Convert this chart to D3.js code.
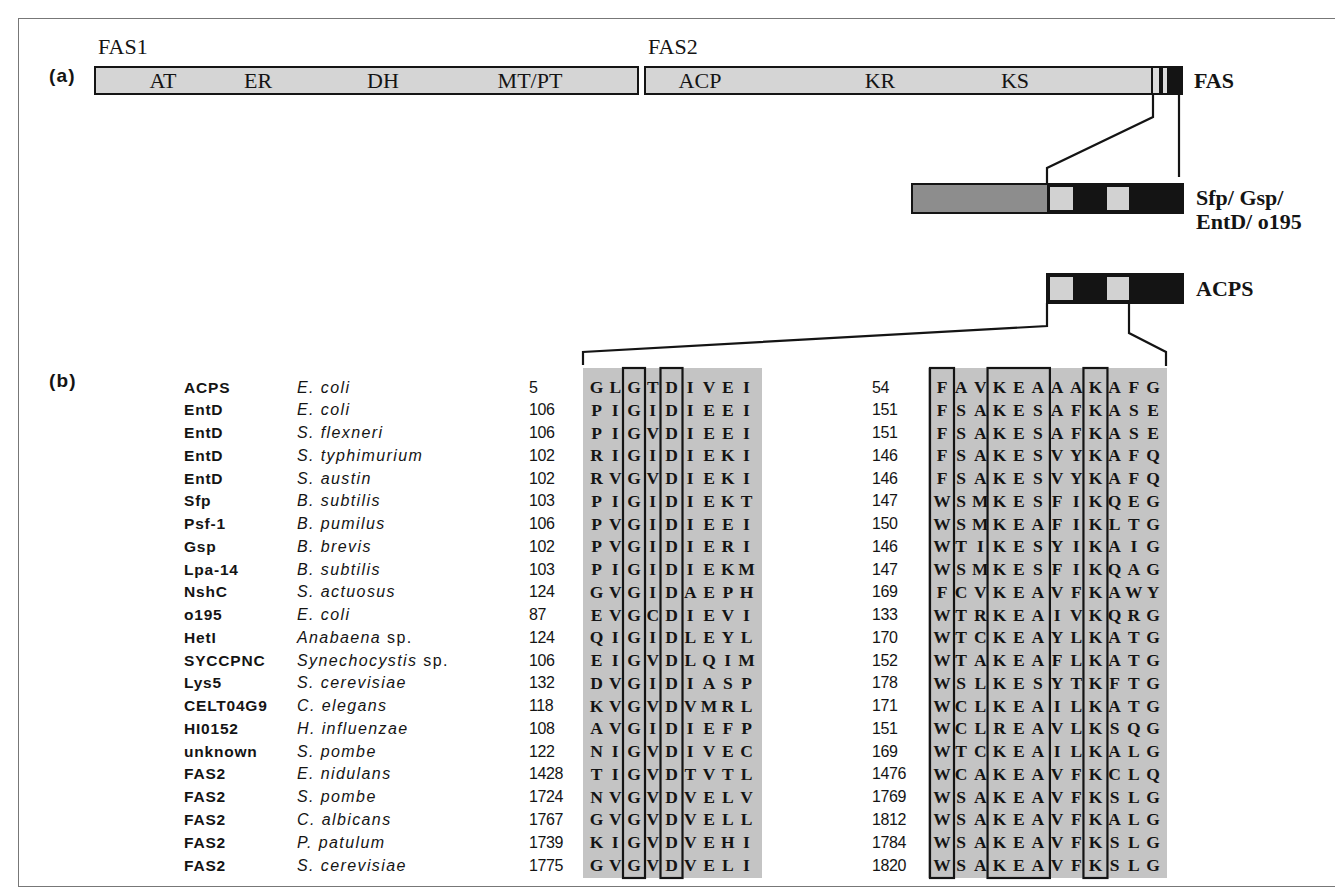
<!DOCTYPE html>
<html>
<head>
<meta charset="utf-8">
<script src="https://cdn.jsdelivr.net/npm/d3@7"></script>
<style>
  body { margin: 0; background: #fff; }
</style>
</head>
<body>
<div id="fig"></div>
<script>
// ---- data ----
const proteins = ["ACPS", "EntD", "EntD", "EntD", "EntD", "Sfp", "Psf-1", "Gsp", "Lpa-14", "NshC", "o195",
  "HetI", "SYCCPNC", "Lys5", "CELT04G9", "HI0152", "unknown", "FAS2", "FAS2", "FAS2", "FAS2", "FAS2"];
const species = ["E. coli", "E. coli", "S. flexneri", "S. typhimurium", "S. austin", "B. subtilis", "B. pumilus",
  "B. brevis", "B. subtilis", "S. actuosus", "E. coli", "Anabaena sp.", "Synechocystis sp.", "S. cerevisiae",
  "C. elegans", "H. influenzae", "S. pombe", "E. nidulans", "S. pombe", "C. albicans", "P. patulum", "S. cerevisiae"];
const start1 = [5, 106, 106, 102, 102, 103, 106, 102, 103, 124, 87, 124, 106, 132, 118, 108, 122, 1428, 1724, 1767, 1739, 1775];
const motif1 = ["GLGTDIVEI", "PIGIDIEEI", "PIGVDIEEI", "RIGIDIEKI", "RVGVDIEKI", "PIGIDIEKT", "PVGIDIEEI",
  "PVGIDIERI", "PIGIDIEKM", "GVGIDAEPH", "EVGCDIEVI", "QIGIDLEYL", "EIGVDLQIM", "DVGIDIASP", "KVGVDVMRL",
  "AVGIDIEFP", "NIGVDIVEC", "TIGVDTVTL", "NVGVDVELV", "GVGVDVELL", "KIGVDVEHI", "GVGVDVELI"];
const start2 = [54, 151, 151, 146, 146, 147, 150, 146, 147, 169, 133, 170, 152, 178, 171, 151, 169, 1476, 1769, 1812, 1784, 1820];
const motif2 = ["FAVKEAAAKAFG", "FSAKESAFKASE", "FSAKESAFKASE", "FSAKESVYKAFQ", "FSAKESVYKAFQ", "WSMKESFIKQEG",
  "WSMKEAFIKLTG", "WTIKESYIKAIG", "WSMKESFIKQAG", "FCVKEAVFKAWY", "WTRKEAIVKQRG", "WTCKEAYLKATG",
  "WTAKEAFLKATG", "WSLKESYTKFTG", "WCLKEAILKATG", "WCLREAVLKSQG", "WTCKEAILKALG", "WCAKEAVFKCLQ",
  "WSAKEAVFKSLG", "WSAKEAVFKALG", "WSAKEAVFKSLG", "WSAKEAVFKSLG"];
// conserved columns boxed in each motif [first, last]
const boxes1 = [[2, 2], [4, 4]];
const boxes2 = [[0, 0], [3, 5], [8, 8]];
const fas1Domains = ["AT", "ER", "DH", "MT/PT"];
const fas2Domains = ["ACP", "KR", "KS"];

// ---- layout ----
const W = 1335, H = 890;
const svg = d3.select("#fig").append("svg").attr("width", W).attr("height", H);
const serif = "'Liberation Serif', 'DejaVu Serif', serif";
const sans = "'Liberation Sans', Arial, sans-serif";
const ink = "#141414";

// page frame
svg.append("rect").attr("x", 18.5).attr("y", 18.5).attr("width", W).attr("height", H - 22)
  .attr("fill", "none").attr("stroke", "#777").attr("stroke-width", 1);

// ---------- (a) domain diagram ----------
const a = svg.append("g");
a.append("text").attr("x", 49).attr("y", 82).attr("font-family", sans).attr("font-weight", "bold")
  .attr("font-size", 19).attr("letter-spacing", 1.2).attr("fill", ink).text("(a)");

const barY = 67, barH = 27;
const fas1 = { x0: 95, x1: 638, labelX: [163, 258, 383, 530] };
const fas2 = { x0: 645, x1: 1182, labelX: [700, 880, 1015] };

[[fas1, "FAS1", fas1Domains], [fas2, "FAS2", fas2Domains]].forEach(([b, name, doms]) => {
  a.append("text").attr("x", b.x0 + 3).attr("y", 54).attr("font-family", serif)
    .attr("font-size", 22).attr("fill", ink).text(name);
  a.append("rect").attr("x", b.x0).attr("y", barY).attr("width", b.x1 - b.x0).attr("height", barH)
    .attr("fill", "#d5d5d5").attr("stroke", ink).attr("stroke-width", 2);
  a.selectAll(null).data(doms).enter().append("text")
    .attr("x", (d, i) => b.labelX[i]).attr("y", barY + 21)
    .attr("text-anchor", "middle").attr("font-family", serif).attr("font-size", 22).attr("fill", ink)
    .text(d => d);
});
// PPT domain stripes at the C-terminus of FAS2
const stripes = [[1151, 1153, ink], [1153, 1159, "#dcdcdc"], [1159, 1163, ink], [1163, 1167, "#dcdcdc"], [1167, 1182, ink]];
a.selectAll(null).data(stripes).enter().append("rect")
  .attr("x", d => d[0]).attr("y", barY).attr("width", d => d[1] - d[0]).attr("height", barH)
  .attr("fill", d => d[2]);
a.append("rect").attr("x", fas2.x0).attr("y", barY).attr("width", fas2.x1 - fas2.x0).attr("height", barH)
  .attr("fill", "none").attr("stroke", ink).attr("stroke-width", 2);
a.append("text").attr("x", 1194).attr("y", barY + 21).attr("font-family", serif).attr("font-weight", "bold")
  .attr("font-size", 22).attr("fill", ink).text("FAS");

// small PPT boxes (Sfp family and ACPS)
function pptBox(y, x0, withN) {
  const g = a.append("g");
  if (withN) {
    g.append("rect").attr("x", x0).attr("y", y).attr("width", 1047 - x0).attr("height", 29).attr("fill", "#8d8d8d");
  }
  g.append("rect").attr("x", 1047).attr("y", y).attr("width", 1183 - 1047).attr("height", 29).attr("fill", ink);
  [[1050, 1073], [1107, 1129]].forEach(([p, q]) =>
    g.append("rect").attr("x", p).attr("y", y + 3).attr("width", q - p).attr("height", 23).attr("fill", "#d2d2d2"));
  g.append("rect").attr("x", withN ? x0 : 1047).attr("y", y).attr("width", 1183 - (withN ? x0 : 1047)).attr("height", 29)
    .attr("fill", "none").attr("stroke", ink).attr("stroke-width", 2);
}
pptBox(184, 912, true);
pptBox(274, 1047, false);

const lbl = (x, y, t) => a.append("text").attr("x", x).attr("y", y).attr("font-family", serif)
  .attr("font-weight", "bold").attr("font-size", 22).attr("fill", ink).text(t);
lbl(1196, 205, "Sfp/ Gsp/");
lbl(1196, 229, "EntD/ o195");
lbl(1196, 296, "ACPS");

const line = d3.line();
const connectors = [
  [[1153, 95], [1153, 117], [1047, 168], [1047, 184]],
  [[1179, 95], [1179, 177]],
  [[1047, 303], [1047, 326], [583, 352], [583, 365]],
  [[1129, 303], [1129, 333], [1166, 352], [1166, 366]]
];
a.selectAll(null).data(connectors).enter().append("path")
  .attr("d", d => line(d)).attr("fill", "none").attr("stroke", ink).attr("stroke-width", 2.2);

// ---------- (b) alignment ----------
const b = svg.append("g");
b.append("text").attr("x", 49).attr("y", 387).attr("font-family", sans).attr("font-weight", "bold")
  .attr("font-size", 19).attr("letter-spacing", 1.2).attr("fill", ink).text("(b)");

const rows = d3.range(proteins.length);
const y = d3.scalePoint().domain(rows).range([387, 865]);
const x1 = d3.scaleLinear().domain([0, 8]).range([596.5, 746.5]);
const x2 = d3.scaleLinear().domain([0, 11]).range([942, 1153]);
const blockTop = 368, blockBot = 878;

b.append("rect").attr("x", 583).attr("y", blockTop).attr("width", 762 - 583).attr("height", blockBot - blockTop).attr("fill", "#c4c4c4");
b.append("rect").attr("x", 928).attr("y", blockTop).attr("width", 1167 - 928).attr("height", blockBot - blockTop).attr("fill", "#c4c4c4");

const rowG = b.selectAll("g.row").data(rows).enter().append("g").attr("class", "row")
  .attr("transform", i => `translate(0,${y(i)})`);

rowG.append("text").attr("x", 184).attr("y", 5.5).attr("font-family", sans).attr("font-weight", "bold")
  .attr("font-size", 15.5).attr("letter-spacing", 0.8).attr("fill", ink).text(i => proteins[i]);

rowG.append("text").attr("x", 297).attr("y", 5.5).attr("font-family", sans)
  .attr("font-size", 16).attr("letter-spacing", 1.4).attr("fill", ink)
  .each(function (i) {
    const s = species[i];
    const t = d3.select(this);
    if (s.endsWith(" sp.")) {
      t.append("tspan").attr("font-style", "italic").text(s.slice(0, -4));
      t.append("tspan").text(" sp.");
    } else {
      t.append("tspan").attr("font-style", "italic").text(s);
    }
  });

rowG.append("text").attr("x", 529).attr("y", 5.5).attr("font-family", sans).attr("font-size", 16)
  .attr("letter-spacing", -0.4).attr("fill", ink).text(i => start1[i]);
rowG.append("text").attr("x", 872).attr("y", 5.5).attr("font-family", sans).attr("font-size", 16)
  .attr("letter-spacing", -0.4).attr("fill", ink).text(i => start2[i]);

function residues(sel, seqs, xs) {
  sel.selectAll(null).data(i => seqs[i].split("").map((c, k) => ({ c, k })))
    .enter().append("text")
    .attr("x", d => xs(d.k)).attr("y", 6)
    .attr("text-anchor", "middle").attr("font-family", serif).attr("font-weight", "bold")
    .attr("font-size", 17.5).attr("fill", ink).text(d => d.c);
}
residues(rowG, motif1, x1);
residues(rowG, motif2, x2);

function drawBoxes(list, xs, half) {
  b.selectAll(null).data(list).enter().append("rect")
    .attr("x", d => xs(d[0]) - half).attr("y", blockTop)
    .attr("width", d => xs(d[1]) - xs(d[0]) + 2 * half).attr("height", blockBot - blockTop)
    .attr("fill", "none").attr("stroke", ink).attr("stroke-width", 2.2);
}
drawBoxes(boxes1, x1, 11);
drawBoxes(boxes2, x2, 12);
</script>
</body>
</html>
